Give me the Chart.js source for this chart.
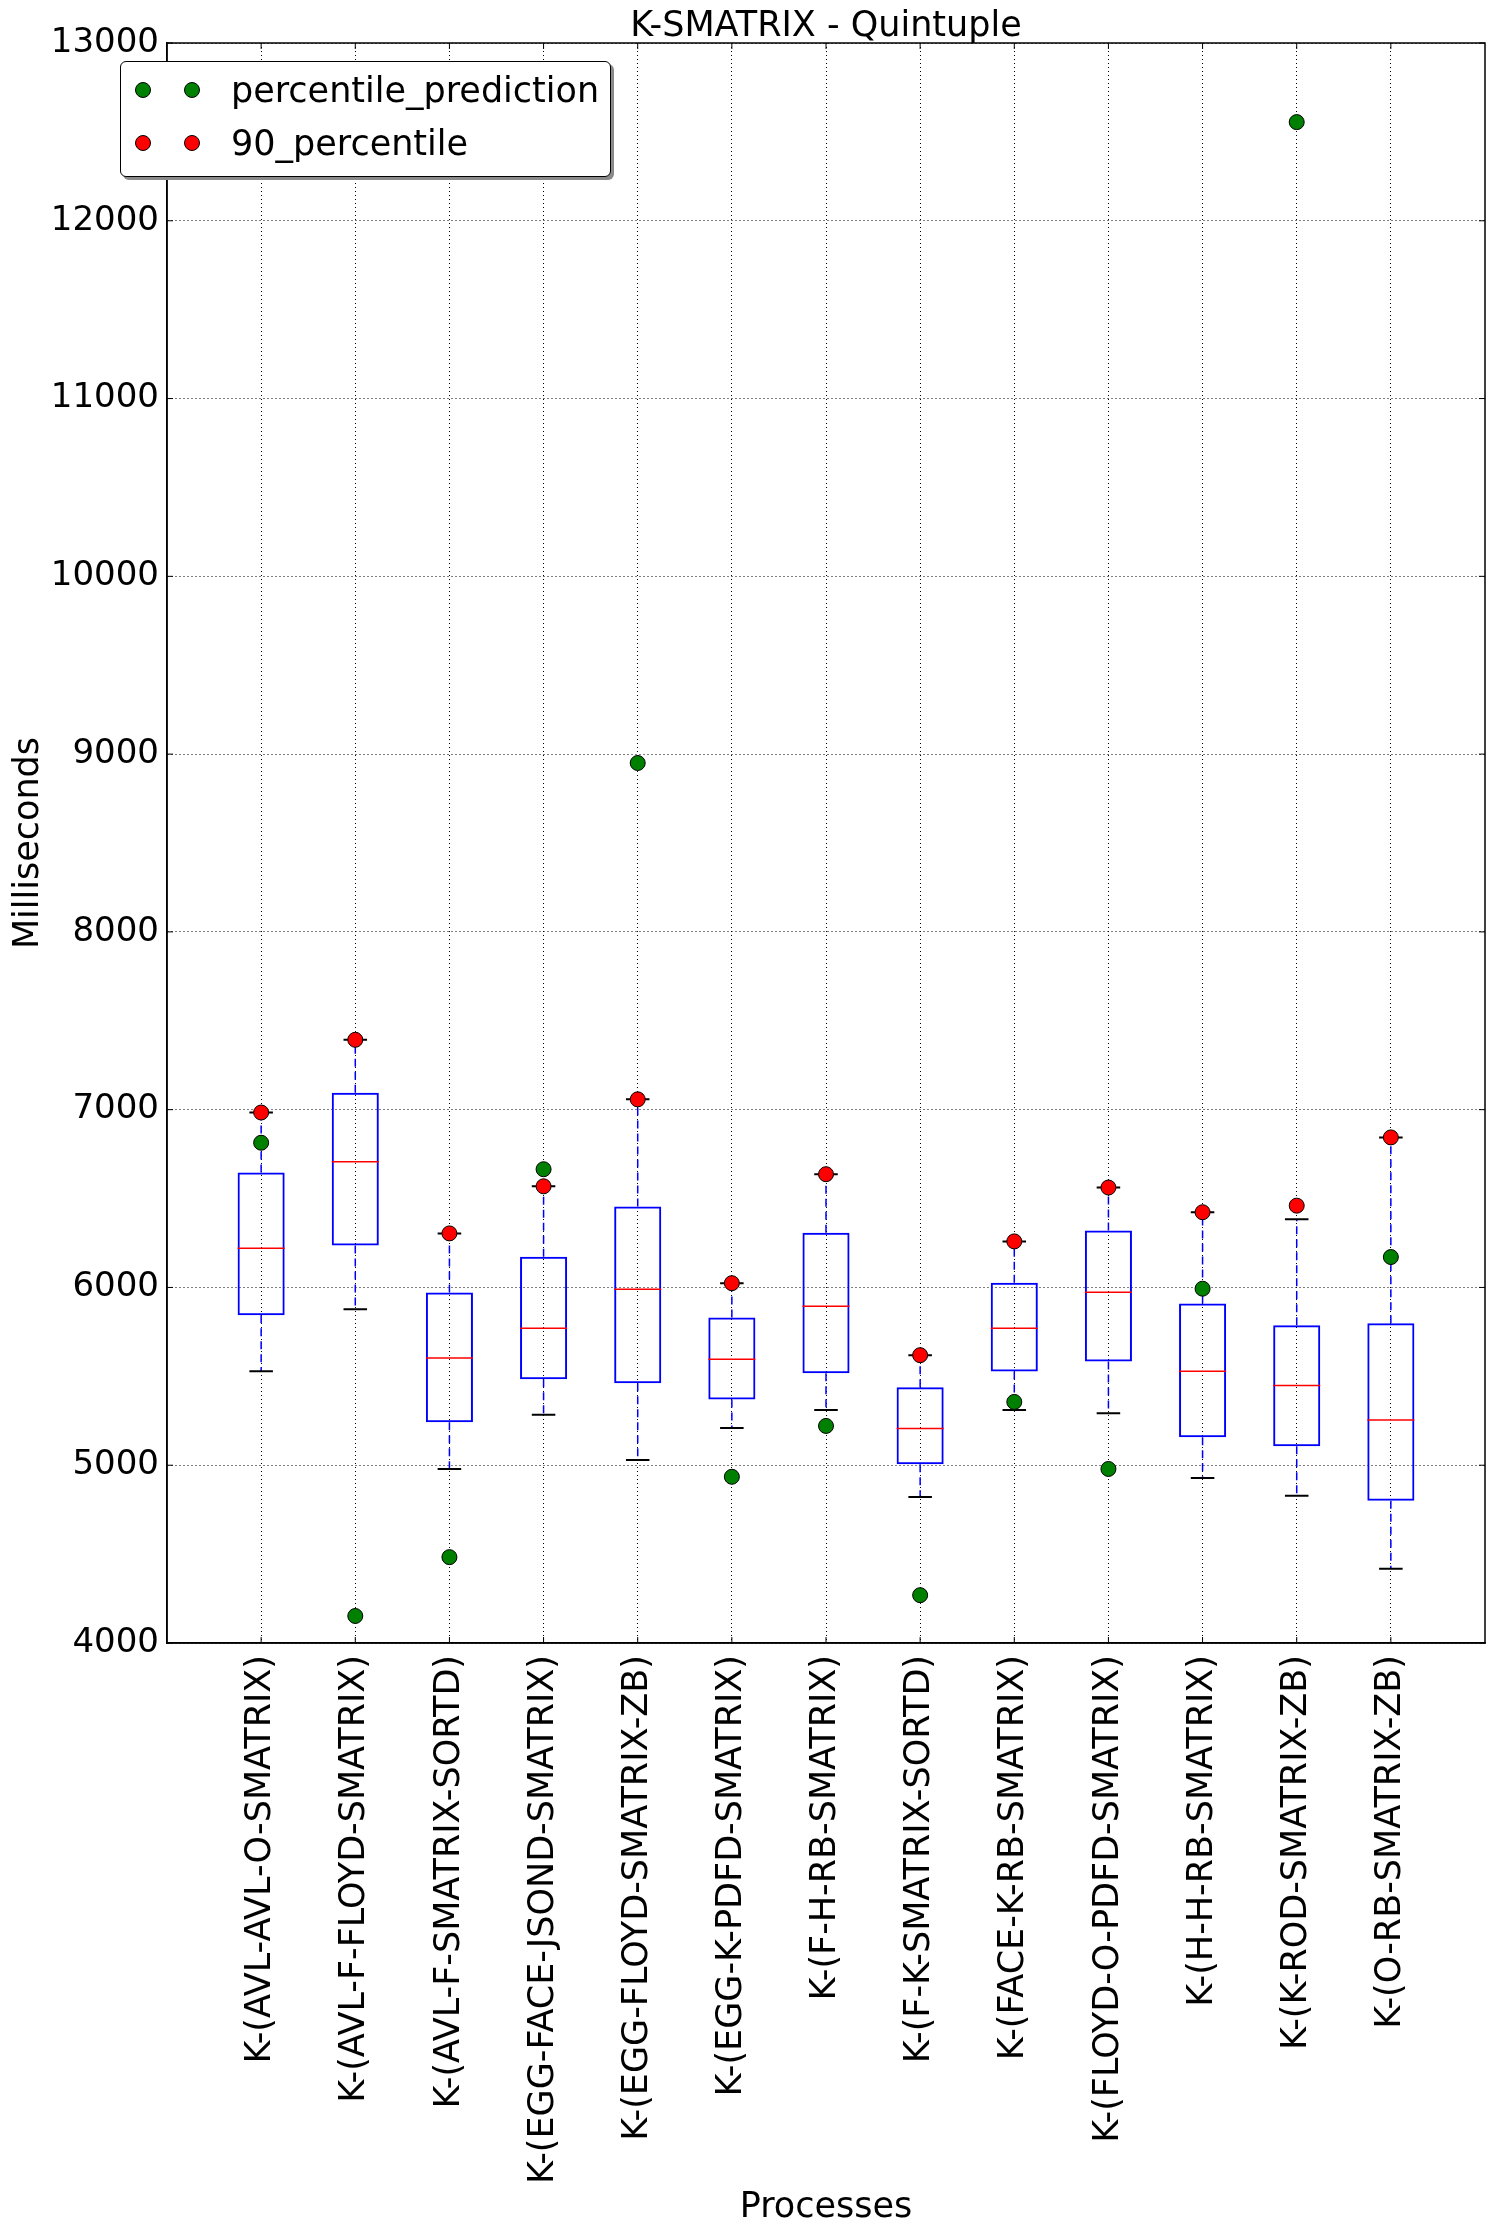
<!DOCTYPE html>
<html>
<head>
<meta charset="utf-8">
<title>K-SMATRIX - Quintuple</title>
<script src="https://cdn.jsdelivr.net/npm/chart.js@4.4.1/dist/chart.umd.min.js"></script>
<style>
  html, body { margin: 0; padding: 0; background: #fff; }
  #wrap { position: relative; width: 1494px; height: 2233px; }
  #legend {
    position: absolute; left: 120px; top: 61px; width: 489px; height: 114px;
    border: 1px solid #000; border-radius: 6px; background: #fff;
    box-shadow: 3px 3px 0 #8a8a8a;
    font-family: 'DejaVu Sans'; font-size: 35px; color: #000;
  }
  .entry { position: absolute; left: 0; right: 0; height: 40px; line-height: 40px; }
  .entry .dot {
    position: absolute; top: 12px; width: 14px; height: 14px;
    border: 1px solid #000; border-radius: 50%;
  }
  .entry .txt { position: absolute; left: 110px; top: 0; white-space: nowrap; }
</style>
</head>
<body>
<div id="wrap">
  <canvas id="chart" width="1494" height="2233"></canvas>
  <div id="legend"></div>
</div>
<script>
const labels = [
  'K-(AVL-AVL-O-SMATRIX)',
  'K-(AVL-F-FLOYD-SMATRIX)',
  'K-(AVL-F-SMATRIX-SORTD)',
  'K-(EGG-FACE-JSOND-SMATRIX)',
  'K-(EGG-FLOYD-SMATRIX-ZB)',
  'K-(EGG-K-PDFD-SMATRIX)',
  'K-(F-H-RB-SMATRIX)',
  'K-(F-K-SMATRIX-SORTD)',
  'K-(FACE-K-RB-SMATRIX)',
  'K-(FLOYD-O-PDFD-SMATRIX)',
  'K-(H-H-RB-SMATRIX)',
  'K-(K-ROD-SMATRIX-ZB)',
  'K-(O-RB-SMATRIX-ZB)'
];

// box plot statistics (ms)
const whiskerLow  = [5529, 5878, 4979, 5284, 5030, 5210, 5310, 4821, 5310, 5293, 4928, 4828, 4418];
const q1          = [5843, 6236, 5242, 5484, 5461, 5370, 5517, 5005, 5527, 5584, 5158, 5107, 4800];
const median      = [6220, 6707, 5603, 5771, 5990, 5596, 5894, 5207, 5771, 5973, 5529, 5449, 5254];
const q3          = [6646, 7095, 5971, 6173, 6455, 5831, 6308, 5438, 6026, 6320, 5910, 5787, 5799];
const whiskerHigh = [6984, 7393, 6304, 6569, 7058, 6024, 6637, 5619, 6259, 6562, 6423, 6383, 6844];

// extra points
const percentilePrediction = [6814, 4152, 4483, 6665, 8950, 4935, 5221, 4269, 5356, 4979, 5993, 12555, 6171];
const percentile90         = [6984, 7393, 6304, 6569, 7058, 6024, 6637, 5619, 6259, 6562, 6423, 6460, 6844];

const yTicks = [4000, 5000, 6000, 7000, 8000, 9000, 10000, 11000, 12000, 13000];

const HALF_BOX = 0.25;
const HALF_CAP = 0.125;

// build polyline data with breaks between pieces
function pieces(fn) {
  const out = [];
  labels.forEach((_, i) => {
    fn(i + 1, i).forEach(seg => {
      out.push(...seg, { x: i + 1, y: null });
    });
  });
  return out;
}

const whiskerData = pieces((x, i) => [
  [{ x, y: q3[i] }, { x, y: whiskerHigh[i] }],
  [{ x, y: q1[i] }, { x, y: whiskerLow[i] }]
]);
const capData = pieces((x, i) => [
  [{ x: x - HALF_CAP, y: whiskerHigh[i] }, { x: x + HALF_CAP, y: whiskerHigh[i] }],
  [{ x: x - HALF_CAP, y: whiskerLow[i] }, { x: x + HALF_CAP, y: whiskerLow[i] }]
]);
const medianData = pieces((x, i) => [
  [{ x: x - HALF_BOX, y: median[i] }, { x: x + HALF_BOX, y: median[i] }]
]);
const boxData = labels.map((_, i) => ({ x: i + 1, y: [q1[i], q3[i]] }));

const series = [
  { label: 'percentile_prediction', values: percentilePrediction, color: '#008000' },
  { label: '90_percentile', values: percentile90, color: '#ff0000' }
];

Chart.defaults.font.family = 'DejaVu Sans';
Chart.defaults.color = '#000';

const frame = {
  id: 'frame',
  afterDraw(chart) {
    const { ctx, chartArea: a, scales } = chart;
    ctx.save();
    ctx.strokeStyle = '#000';
    ctx.lineWidth = 1.5;
    ctx.setLineDash([]);
    ctx.strokeRect(a.left, a.top, a.right - a.left, a.bottom - a.top);
    ctx.lineWidth = 1;
    const len = 6;
    ctx.beginPath();
    scales.x.ticks.forEach(t => {
      const px = scales.x.getPixelForValue(t.value);
      ctx.moveTo(px, a.bottom); ctx.lineTo(px, a.bottom - len);
      ctx.moveTo(px, a.top); ctx.lineTo(px, a.top + len);
    });
    scales.y.ticks.forEach(t => {
      const py = scales.y.getPixelForValue(t.value);
      ctx.moveTo(a.left, py); ctx.lineTo(a.left + len, py);
      ctx.moveTo(a.right, py); ctx.lineTo(a.right - len, py);
    });
    ctx.stroke();
    ctx.restore();
  }
};

new Chart(document.getElementById('chart'), {
  type: 'scatter',
  data: {
    datasets: [
      ...series.map(s => ({
        type: 'scatter',
        label: s.label,
        data: s.values.map((v, i) => ({ x: i + 1, y: v })),
        backgroundColor: s.color,
        borderColor: '#000',
        borderWidth: 1,
        pointRadius: 7.5,
        order: 0
      })),
      {
        type: 'line', label: 'caps', data: capData,
        borderColor: '#000', borderWidth: 2, pointRadius: 0,
        fill: false, tension: 0, spanGaps: false, order: 1
      },
      {
        type: 'line', label: 'median', data: medianData,
        borderColor: '#ff0000', borderWidth: 1.5, pointRadius: 0,
        fill: false, tension: 0, spanGaps: false, order: 2
      },
      {
        type: 'bar', label: 'boxes', data: boxData,
        backgroundColor: 'rgba(0,0,0,0)', borderColor: '#0000ff', borderWidth: 2,
        borderSkipped: false, barPercentage: 0.5, categoryPercentage: 1, order: 3
      },
      {
        type: 'line', label: 'whiskers', data: whiskerData,
        borderColor: '#0000ff', borderWidth: 1.5, borderDash: [8, 5], pointRadius: 0,
        fill: false, tension: 0, spanGaps: false, order: 4
      }
    ]
  },
  options: {
    responsive: false,
    animation: false,
    layout: { padding: { left: 0, right: 9, top: 0, bottom: 0 } },
    plugins: {
      legend: { display: false },
      tooltip: { enabled: false },
      title: { display: false }
    },
    scales: {
      x: {
        type: 'linear', min: 0, max: 14, offset: false,
        grid: { color: '#000', lineWidth: 1, drawTicks: false, offset: false },
        border: { display: true, color: '#000', width: 1.5, dash: [1, 3] },
        afterBuildTicks: s => { s.ticks = labels.map((_, i) => ({ value: i + 1 })); },
        ticks: {
          autoSkip: false, minRotation: 90, maxRotation: 90, padding: 12,
          font: { size: 35 },
          callback: v => labels[v - 1] || ''
        },
        title: { display: true, text: 'Processes', font: { size: 35 }, padding: { top: 0, bottom: 4 } },
        afterFit: s => { s.height = 590; s.paddingLeft = 0; s.paddingRight = 0; }
      },
      xTop: {
        type: 'linear', position: 'top', min: 0, max: 14,
        grid: { display: false }, border: { display: false },
        ticks: { display: false },
        title: {
          display: true, text: 'K-SMATRIX - Quintuple',
          font: { size: 35, lineHeight: 1 }, padding: { top: 9, bottom: 0 }
        },
        afterFit: s => { s.height = 43; s.paddingLeft = 0; s.paddingRight = 0; }
      },
      y: {
        type: 'linear', min: 4000, max: 13000,
        grid: { color: '#000', lineWidth: 1, drawTicks: false },
        border: { display: true, color: '#000', width: 1.5, dash: [1, 3] },
        afterBuildTicks: s => { s.ticks = yTicks.map(v => ({ value: v })); },
        ticks: { padding: 8, font: { size: 34 }, callback: v => String(v) },
        title: { display: true, text: 'Milliseconds', font: { size: 35 }, padding: { top: 8, bottom: 0 } },
        afterFit: s => { s.width = 167; s.paddingTop = 0; s.paddingBottom = 0; }
      }
    }
  },
  plugins: [frame]
});

// legend: two markers per entry, as in the original figure
const legend = document.getElementById('legend');
series.forEach((s, k) => {
  const row = document.createElement('div');
  row.className = 'entry';
  row.style.top = (8 + k * 53) + 'px';
  row.innerHTML = `
    <span class="dot" style="left:14px;background:${s.color}"></span>
    <span class="dot" style="left:63px;background:${s.color}"></span>
    <span class="txt">${s.label}</span>`;
  legend.appendChild(row);
});
</script>
</body>
</html>
